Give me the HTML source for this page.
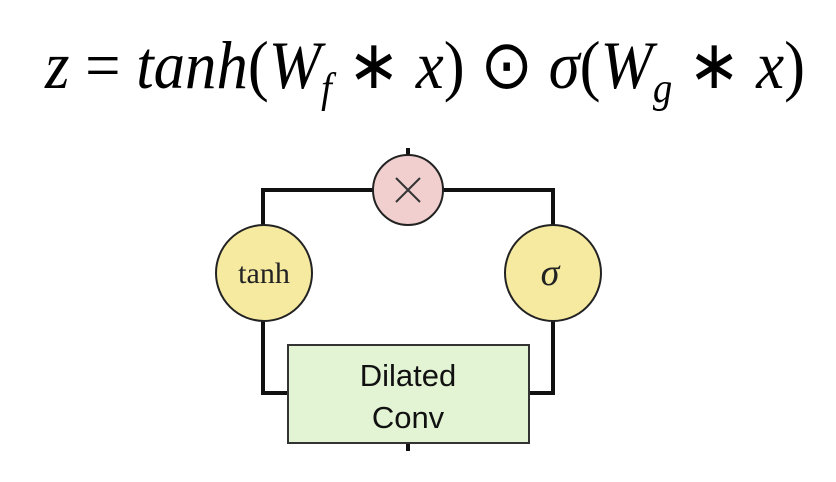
<!DOCTYPE html>
<html><head><meta charset="utf-8"><style>
html,body{margin:0;padding:0;background:#fff;}
svg{display:block;}
</style></head><body>
<svg width="836" height="482" viewBox="0 0 836 482" xmlns="http://www.w3.org/2000/svg">
  <text x="45" y="88" font-family="Liberation Serif, serif" font-size="68" font-style="italic" textLength="760" lengthAdjust="spacingAndGlyphs">z <tspan font-style="normal">=</tspan> tanh<tspan font-style="normal">(</tspan>W<tspan font-size="42" dy="14">f</tspan><tspan dy="-14" font-style="normal"> ∗ </tspan>x<tspan font-style="normal">) ⊙ </tspan>σ<tspan font-style="normal">(</tspan>W<tspan font-size="42" dy="14">g</tspan><tspan dy="-14" font-style="normal"> ∗ </tspan>x<tspan font-style="normal">)</tspan></text>

  <g stroke="#111" stroke-width="4" fill="none">
    <polyline points="408,148 408,158"/>
    <polyline points="263,225 263,190 553,190 553,225"/>
    <polyline points="263,321 263,393 290,393"/>
    <polyline points="553,321 553,393 527,393"/>
    <polyline points="408,443 408,451"/>
  </g>

  <g>
    <circle cx="408" cy="190" r="35" fill="#f2cfcf" stroke="#222" stroke-width="2"/>
    <path d="M396 178 L420 202 M420 178 L396 202" stroke="#333" stroke-width="2"/>
  </g>

  <g>
    <circle cx="264" cy="273" r="48" fill="#f5eaa0" stroke="#222" stroke-width="2"/>
    <text x="264" y="283" text-anchor="middle" font-family="Liberation Serif, serif" font-size="30" fill="#222">tanh</text>
  </g>

  <g>
    <circle cx="553" cy="273" r="48" fill="#f5eaa0" stroke="#222" stroke-width="2"/>
    <text x="550" y="285" text-anchor="middle" font-family="Liberation Serif, serif" font-style="italic" font-size="38" fill="#222">σ</text>
  </g>

  <g>
    <rect x="288" y="345" width="241" height="98" fill="#e2f4d4" stroke="#333" stroke-width="2"/>
    <text x="408" y="386" text-anchor="middle" font-family="Liberation Sans, sans-serif" font-size="31" fill="#111">Dilated</text>
    <text x="408" y="428" text-anchor="middle" font-family="Liberation Sans, sans-serif" font-size="31" fill="#111">Conv</text>
  </g>
</svg>
</body></html>
